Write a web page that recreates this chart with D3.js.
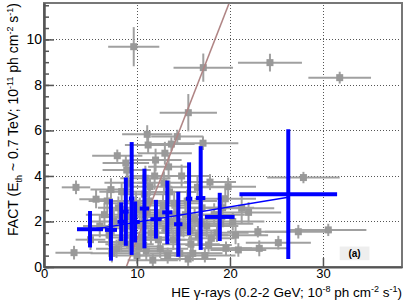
<!DOCTYPE html>
<html>
<head>
<meta charset="utf-8">
<script src="https://cdn.jsdelivr.net/npm/d3@7"></script>
<style>
  body { margin: 0; background: white; }
  svg { font-family: "Liberation Sans", Arial, sans-serif; }
</style>
</head>
<body>
<script>
// gray points: [x, xErr, y, yErr]
const grayPoints = [
  [9.65, 2.75, 9.68, 0.86], [17.13, 3.2, 8.76, 0.62], [15.52, 3.08, 6.78, 0.82],
  [24.3, 3.44, 8.98, 0.39], [31.8, 3.37, 8.32, 0.26], [27.9, 3.9, 3.93, 0.25],
  [30.57, 4.1, 1.63, 0.27], [27.35, 3.6, 1.55, 0.3], [23.0, 3.3, 1.55, 0.25],
  [25.2, 3.5, 1.07, 0.3], [23.15, 3.0, 0.82, 0.35], [20.9, 3.0, 0.75, 0.3],
  [19.57, 2.8, 0.82, 0.3], [21.26, 3.5, 2.58, 0.66], [19.8, 3.0, 3.53, 0.4],
  [3.44, 1.53, 3.5, 0.3], [5.6, 1.8, 2.98, 0.4], [7.88, 2.7, 4.89, 0.27],
  [3.23, 2.0, 0.63, 0.3], [11.1, 2.7, 5.83, 0.4], [11.2, 2.5, 5.36, 0.35],
  [14.33, 2.8, 5.73, 0.3], [13.7, 2.5, 5.4, 0.3], [17.1, 3.8, 5.44, 0.3],
  [13.4, 2.2, 4.4, 0.55], [17.85, 2.8, 3.73, 0.35], [8.8, 2.5, 4.57, 0.35],
  [8.9, 2.6, 4.26, 0.4], [8.35, 2.4, 3.31, 0.4], [11.4, 2.4, 3.53, 0.4],
  [18.0, 2.5, 1.26, 0.35], [17.7, 2.5, 0.97, 0.3],
  [6.5, 2.0, 2.3, 0.5], [7.0, 2.2, 1.4, 0.5], [7.5, 2.4, 2.0, 0.6],
  [8.0, 2.2, 2.6, 0.5], [8.3, 2.5, 1.1, 0.45], [8.7, 2.6, 1.7, 0.5],
  [9.0, 2.5, 3.7, 0.5], [9.3, 2.6, 2.2, 0.6], [9.6, 2.8, 1.3, 0.5],
  [9.9, 2.5, 2.8, 0.5], [10.2, 2.6, 0.9, 0.4], [10.5, 2.8, 1.9, 0.5],
  [10.8, 2.6, 3.2, 0.6], [11.1, 2.7, 2.4, 0.5], [11.5, 2.9, 1.5, 0.5],
  [11.9, 2.7, 4.0, 0.6], [12.2, 2.8, 2.0, 0.5], [12.5, 3.0, 0.8, 0.4],
  [12.8, 2.8, 2.7, 0.5], [13.1, 3.0, 1.7, 0.5], [13.5, 2.9, 3.3, 0.5],
  [13.9, 3.1, 1.2, 0.45], [14.2, 3.0, 2.3, 0.5], [14.6, 3.2, 0.6, 0.35],
  [15.0, 3.0, 1.8, 0.5], [15.4, 3.2, 2.9, 0.5], [15.8, 3.1, 1.0, 0.4],
  [16.2, 3.3, 2.1, 0.5], [16.6, 3.2, 1.4, 0.45], [17.0, 3.3, 2.6, 0.5],
  [17.5, 3.4, 1.8, 0.5], [18.3, 3.3, 2.3, 0.5], [19.0, 3.5, 1.9, 0.45],
  [19.5, 3.3, 3.0, 0.5], [20.3, 3.4, 2.0, 0.4], [22.0, 3.5, 2.4, 0.45],
  [14.8, 3.0, 4.0, 0.5], [16.5, 3.2, 3.5, 0.5], [12.0, 2.8, 4.7, 0.5],
  [13.0, 2.9, 5.0, 0.5], [10.0, 2.5, 0.5, 0.35], [11.7, 2.7, 0.3, 0.3],
  [15.5, 3.0, 0.35, 0.3], [6.0, 1.8, 1.8, 0.5], [5.0, 1.6, 1.2, 0.45],
  [7.8, 2.2, 0.8, 0.4],
  [6.8, 2.0, 2.9, 0.5], [7.3, 2.3, 0.6, 0.4], [8.5, 2.4, 2.2, 0.5],
  [9.2, 2.6, 1.0, 0.45], [9.5, 2.5, 1.8, 0.5], [10.3, 2.7, 2.5, 0.55],
  [10.6, 2.6, 1.3, 0.45], [11.0, 2.8, 0.7, 0.4], [11.3, 2.6, 2.9, 0.55],
  [12.3, 2.9, 1.2, 0.45], [12.6, 2.8, 2.3, 0.5], [13.3, 3.0, 0.5, 0.35],
  [13.7, 2.9, 2.0, 0.5], [14.0, 3.0, 2.8, 0.55], [14.5, 3.1, 1.5, 0.45],
  [15.2, 3.2, 2.3, 0.5], [15.7, 3.1, 1.6, 0.45], [16.0, 3.2, 0.6, 0.35],
  [16.9, 3.3, 1.9, 0.45], [17.3, 3.3, 0.5, 0.3], [18.6, 3.4, 1.5, 0.4],
  [19.2, 3.4, 2.6, 0.5], [20.6, 3.5, 1.4, 0.4], [7.2, 2.2, 3.4, 0.5],
  [10.9, 2.7, 3.9, 0.55], [12.9, 2.9, 3.7, 0.5]
];

// blue points: [x, xErr, y, yErr]
const bluePoints = [
  [4.95, 1.4, 1.66, 0.8], [7.2, 0.65, 1.63, 1.35], [8.3, 0.4, 1.99, 0.85],
  [8.8, 0.3, 2.43, 1.5], [9.43, 0.3, 3.01, 2.48], [9.8, 0.5, 1.98, 0.9],
  [10.8, 0.5, 2.57, 1.75], [12.04, 0.6, 2.1, 0.85], [13.26, 0.55, 2.4, 1.4],
  [14.44, 0.45, 1.88, 1.43], [15.6, 0.35, 3.0, 1.6], [16.85, 0.5, 3.03, 2.28],
  [18.9, 1.6, 2.2, 1.06], [26.27, 5.25, 3.2, 2.85]
];

// fits: [intercept, slope, xFrom, xTo]
const blueFit = [1.30, 0.067, 4.95, 26.27];
const brownFit = [-9.27, 1.048, 8.85, 19.92];

const xTicks = [0, 10, 20, 30];
const yTicks = [0, 2, 4, 6, 8, 10];
const yMinorTicks = d3.range(0, 11.6, 0.5);

const W = 407, H = 300;
const margin = {left: 44, top: 3, right: 5, bottom: 33};

const svg = d3.select("body").append("svg")
    .attr("width", W)
    .attr("height", H);

const x = d3.scaleLinear().domain([0, 38.5]).range([margin.left, W - margin.right]);
const y = d3.scaleLinear().domain([0, 11.6]).range([H - margin.bottom, margin.top]);

svg.append("clipPath").attr("id", "plot")
  .append("rect")
    .attr("x", x(0)).attr("y", y(11.6))
    .attr("width", x(38.5) - x(0)).attr("height", y(0) - y(11.6));

// grid
const grid = svg.append("g").attr("stroke", "#555").attr("stroke-width", 1)
    .attr("stroke-dasharray", "1,2");
grid.selectAll(".gx").data(xTicks.filter(d => d > 0)).join("line")
    .attr("x1", d => Math.round(x(d)) + 0.5).attr("x2", d => Math.round(x(d)) + 0.5)
    .attr("y1", y(0)).attr("y2", y(11.6));
grid.selectAll(".gy").data(yTicks.filter(d => d > 0)).join("line")
    .attr("y1", d => Math.round(y(d)) + 0.5).attr("y2", d => Math.round(y(d)) + 0.5)
    .attr("x1", x(0)).attr("x2", x(38.5));

const plot = svg.append("g").attr("clip-path", "url(#plot)");

// gray points
const gray = plot.append("g");
gray.selectAll(".gh").data(grayPoints).join("line")
    .attr("x1", d => x(d[0] - d[1])).attr("x2", d => x(d[0] + d[1]))
    .attr("y1", d => y(d[2])).attr("y2", d => y(d[2]))
    .attr("stroke", "#a0a0a0").attr("stroke-width", 2);
gray.selectAll(".gv").data(grayPoints).join("line")
    .attr("x1", d => x(d[0])).attr("x2", d => x(d[0]))
    .attr("y1", d => y(d[2] - d[3])).attr("y2", d => y(d[2] + d[3]))
    .attr("stroke", "#a0a0a0").attr("stroke-width", 2);
gray.selectAll("rect").data(grayPoints).join("rect")
    .attr("x", d => x(d[0]) - 3.5).attr("y", d => y(d[2]) - 3.5)
    .attr("width", 7).attr("height", 7)
    .attr("fill", "#999");

// brown fit line
plot.append("line")
    .attr("x1", x(brownFit[2])).attr("y1", y(brownFit[0] + brownFit[1] * brownFit[2]))
    .attr("x2", x(brownFit[3])).attr("y2", y(brownFit[0] + brownFit[1] * brownFit[3]))
    .attr("stroke", "#b08585").attr("stroke-width", 1.5);

// blue points
const blue = plot.append("g");
blue.selectAll(".bh").data(bluePoints).join("line")
    .attr("x1", d => x(d[0] - d[1])).attr("x2", d => x(d[0] + d[1]))
    .attr("y1", d => y(d[2])).attr("y2", d => y(d[2]))
    .attr("stroke", "#0000ff").attr("stroke-width", 4);
blue.selectAll(".bv").data(bluePoints).join("line")
    .attr("x1", d => x(d[0])).attr("x2", d => x(d[0]))
    .attr("y1", d => y(d[2] - d[3])).attr("y2", d => y(d[2] + d[3]))
    .attr("stroke", "#0000ff").attr("stroke-width", 4);

// blue fit line
plot.append("line")
    .attr("x1", x(blueFit[2])).attr("y1", y(blueFit[0] + blueFit[1] * blueFit[2]))
    .attr("x2", x(blueFit[3])).attr("y2", y(blueFit[0] + blueFit[1] * blueFit[3]))
    .attr("stroke", "#0000ff").attr("stroke-width", 1.5);

// label (a)
const lab = svg.append("g");
lab.append("rect")
    .attr("x", x(31.8)).attr("y", y(0.9))
    .attr("width", x(35) - x(31.8)).attr("height", y(0.3) - y(0.9))
    .attr("fill", "#eeeeee");
lab.append("text")
    .attr("x", x(33.4)).attr("y", y(0.45))
    .attr("text-anchor", "middle")
    .style("font-size", "10px").style("font-weight", "bold")
    .text("(a)");

// frame
svg.append("rect")
    .attr("x", x(0)).attr("y", y(11.6))
    .attr("width", x(38.5) - x(0)).attr("height", y(0) - y(11.6))
    .attr("fill", "none").attr("stroke", "#777").attr("stroke-width", 2);

// axes
const xAxis = d3.axisBottom(x).tickValues(xTicks).tickSize(-9).tickSizeOuter(0).tickPadding(2);
const xg = svg.append("g").attr("transform", `translate(0, ${y(0)})`).call(xAxis);
const yAxis = d3.axisLeft(y).tickValues(yTicks).tickSize(-10).tickSizeOuter(0).tickPadding(2);
const yg = svg.append("g").attr("transform", `translate(${x(0)}, 0)`).call(yAxis);
const yMinor = d3.axisLeft(y).tickValues(yMinorTicks).tickSize(-5).tickSizeOuter(0).tickFormat("");
const ym = svg.append("g").attr("transform", `translate(${x(0)}, 0)`).call(yMinor);

[xg, yg, ym].forEach(g => {
  g.select(".domain").attr("stroke", "#555").attr("stroke-width", 2);
  g.selectAll(".tick line").attr("stroke", "#555").attr("stroke-width", 1.5);
  g.selectAll(".tick text").style("font-size", "14px").attr("fill", "#000")
    .style("font-family", "Liberation Sans, Arial, sans-serif");
});
xg.selectAll(".tick text").style("font-size", "13px");

// x title
const xt = svg.append("text")
    .attr("x", 402).attr("y", 297)
    .attr("text-anchor", "end")
    .style("font-size", "13.5px");
xt.append("tspan").text("HE \u03b3-rays (0.2-2 GeV; 10");
xt.append("tspan").attr("dy", -5).style("font-size", "9px").text("-8");
xt.append("tspan").attr("dy", 5).text(" ph cm");
xt.append("tspan").attr("dy", -5).style("font-size", "9px").text("-2");
xt.append("tspan").attr("dy", 5).text(" s");
xt.append("tspan").attr("dy", -5).style("font-size", "9px").text("-1");
xt.append("tspan").attr("dy", 5).text(")");

// y title
const yt = svg.append("text")
    .attr("transform", "translate(18, 3) rotate(-90)")
    .attr("text-anchor", "end")
    .style("font-size", "14px");
yt.append("tspan").text("FACT (E");
yt.append("tspan").attr("dy", 4).style("font-size", "9px").text("th");
yt.append("tspan").attr("dy", -4).text(" ~ 0.7 TeV; 10");
yt.append("tspan").attr("dy", -5).style("font-size", "9px").text("-11");
yt.append("tspan").attr("dy", 5).text(" ph cm");
yt.append("tspan").attr("dy", -5).style("font-size", "9px").text("-2");
yt.append("tspan").attr("dy", 5).text(" s");
yt.append("tspan").attr("dy", -5).style("font-size", "9px").text("-1");
yt.append("tspan").attr("dy", 5).text(")");
</script>
</body>
</html>
